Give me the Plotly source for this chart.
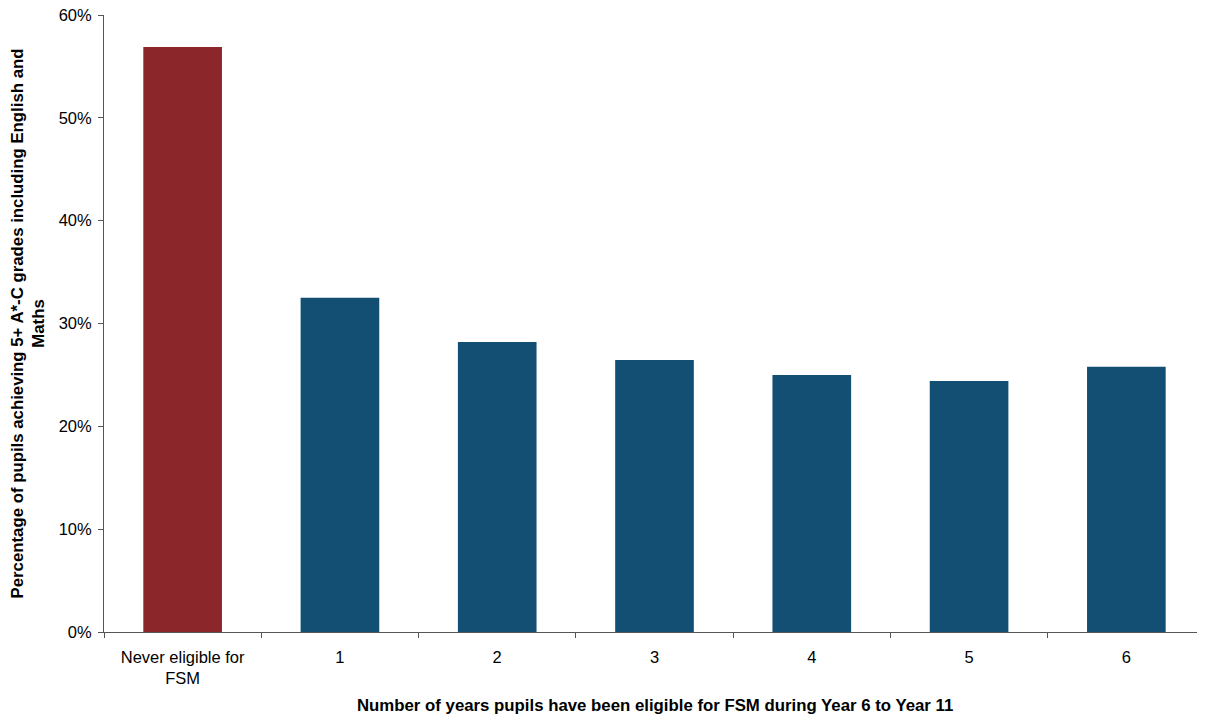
import plotly.graph_objects as go

categories = ["Never eligible for<br>FSM", "1", "2", "3", "4", "5", "6"]
values = [0.569, 0.325, 0.282, 0.2645, 0.250, 0.244, 0.258]
colors = ["#8B262B", "#124F73", "#124F73", "#124F73", "#124F73", "#124F73", "#124F73"]
y_ticks = [0, 0.1, 0.2, 0.3, 0.4, 0.5, 0.6]
y_tick_labels = ["0%", "10%", "20%", "30%", "40%", "50%", "60%"]

x_title = "Number of years pupils have been eligible for FSM during Year 6 to Year 11"
y_title = "Percentage of pupils achieving 5+ A*-C grades including English and<br>Maths"

fig = go.Figure(go.Bar(
    x=categories, y=values, marker=dict(color=colors, line=dict(width=0)),
    width=0.5,
))

font = "Liberation Sans, Arial, sans-serif"
OFF = 8  # page body margin offset
W, H = 1205, 715
L, R, T = 104 - OFF, OFF, 15 - OFF
B = H - (632 - OFF)
pw, ph = W - L - R, H - T - B

fig.update_layout(
    width=W, height=H,
    margin=dict(l=L, r=R, t=T, b=B, autoexpand=False),
    paper_bgcolor="white", plot_bgcolor="white",
    font=dict(family=font, size=16.5, color="#000000"),
    showlegend=False,
)
fig.update_xaxes(
    type="category", range=[-0.5, 6.5], automargin=False,
    showline=True, linecolor="#555555", linewidth=1,
    ticks="outside", tickson="boundaries", ticklen=5, tickcolor="#555555",
    tickfont=dict(family=font, size=16.5), ticklabelstandoff=10,
    showgrid=False,
)
fig.update_yaxes(
    range=[0, 0.6], tickmode="array", tickvals=y_ticks, ticktext=y_tick_labels,
    automargin=False, ticklabeloverflow="allow",
    showline=True, linecolor="#555555", linewidth=1,
    ticks="outside", ticklen=5, tickcolor="#555555",
    tickfont=dict(family=font, size=16.5), ticklabelstandoff=3,
    showgrid=False, zeroline=False,
)
fig.add_annotation(
    text="<b>" + x_title + "</b>", xref="paper", yref="paper",
    x=0.5, y=-(705 - 632) / ph, xanchor="center", yanchor="middle",
    showarrow=False, font=dict(family=font, size=16.8),
)
fig.add_annotation(
    text="<b>" + y_title + "</b>", xref="paper", yref="paper",
    x=(28 - 104) / pw, y=0.5, xanchor="center", yanchor="middle", textangle=-90,
    showarrow=False, font=dict(family=font, size=16.8),
)
fig.write_html("out.html")
